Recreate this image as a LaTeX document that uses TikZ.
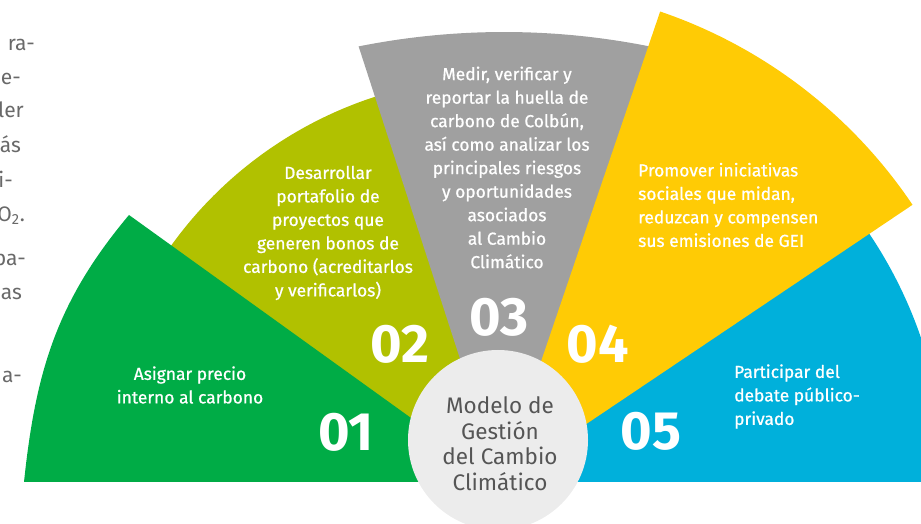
\documentclass[tikz,border=0pt]{standalone}
\usepackage{fontspec}
\setmainfont{Fira Sans}
\newfontfamily\medfont[FakeBold=0.8]{Fira Sans}
\definecolor{gA}{RGB}{0,172,70}
\definecolor{gB}{RGB}{177,193,0}
\definecolor{gC}{RGB}{160,160,160}
\definecolor{gD}{RGB}{255,203,5}
\definecolor{gE}{RGB}{0,176,219}
\definecolor{circ}{RGB}{236,236,236}
\definecolor{ctext}{RGB}{85,85,85}
\definecolor{side}{RGB}{105,105,105}
\tikzset{
  wtext/.style={text=white, font=\medfont\fontsize{17.4}{23.5}\selectfont, inner sep=0pt},
  num/.style={text=white, font=\fontsize{54}{54}\selectfont\bfseries, inner sep=0pt},
  sidetext/.style={text=side, font=\fontsize{21}{21}\selectfont, inner sep=0pt, anchor=mid east}
}
\begin{document}
\begin{tikzpicture}[x=1pt,y=1pt]
\useasboundingbox (0,0) rectangle (921,524);
\clip (0,0) rectangle (921,524);
\coordinate (A) at (500,42);
% wedges
\fill[gB] (A) -- ++(105:405) arc[start angle=105,end angle=146,radius=405] -- cycle;
\fill[gA] (A) -- (24,42) to[out=84,in=-130] (129,309) -- cycle;
\fill[gC] (A) -- ([shift={(504,-250)}]101.3:742) arc[start angle=101.3,end angle=77,radius=742] -- cycle;
\fill[gE] (A) -- ++(0:445) arc[start angle=0,end angle=40,radius=445] -- cycle;
\fill[gD] (A) -- ++(33.9:497) arc[start angle=33.9,end angle=71.2,radius=497] -- cycle;
% centre
\node[circle, fill=circ, minimum size=180pt, inner sep=0pt] (hub) at (498,84) {};
\node[text=ctext, font=\fontsize{22.5}{25.5}\selectfont, align=center, inner sep=0pt] (hubtext) at (500,80.5)
  {Modelo de\\Gestión\\del Cambio\\Climático};
% texts
\node[wtext, align=center] (t1) at (190,139) {Asignar precio\\interno al carbono};
\node[num] (n1) at (346,92) {01};
\node[wtext, align=center] (t2) at (328,291) {Desarrollar\\portafolio de\\proyectos que\\generen bonos de\\carbono (acreditarlos\\y verificarlos)};
\node[num] (n2) at (400,180) {02};
\node[wtext, align=center] (t3) at (507,356.5) {Medir, verificar y\\reportar la huella de\\carbono de Colbún,\\así como analizar los\\principales riesgos\\y oportunidades\\asociados\\al Cambio\\Climático};
\node[num] (n3) at (499,207) {03};
\node[wtext, align=left, anchor=west] (t4) at (638,319) {Promover iniciativas\\sociales que midan,\\reduzcan y compensen\\sus emisiones de GEI};
\node[num] (n4) at (598,180) {04};
\node[wtext, align=left, anchor=west] (t5) at (734,127.5) {Participar del\\debate público-\\privado};
\node[num] (n5) at (651,93) {05};
% clipped side text
\node[sidetext] (s1) at (35,476) {ra-};
\node[sidetext] (s2) at (21,442) {e-};
\node[sidetext] (s3) at (24,409) {ler};
\node[sidetext] (s4) at (21,374) {ás};
\node[sidetext] (s5) at (13,339) {i-};
\node[sidetext] (s6) at (25,305) {O\textsubscript{2}.};
\node[sidetext] (s7) at (26,261) {pa-};
\node[sidetext] (s8) at (22,227) {as};
\node[sidetext] (s9) at (22,144) {a-};
\end{tikzpicture}
\end{document}
